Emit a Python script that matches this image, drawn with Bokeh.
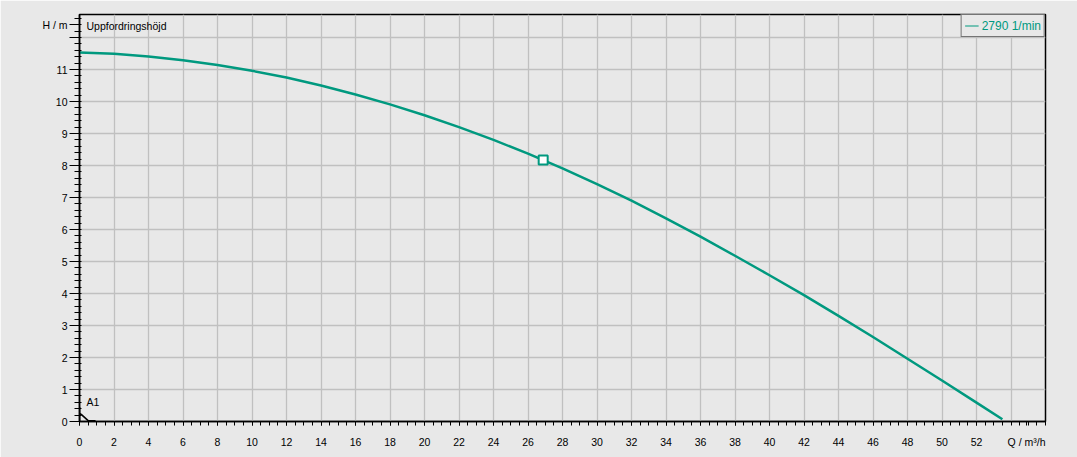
from bokeh.plotting import figure
from bokeh.models import (Range1d, FixedTicker, Label, Legend, LegendItem)
from bokeh.embed import file_html
from bokeh.resources import INLINE

# ---- data ----
Q = [0, 2, 4, 6, 8, 10, 12, 14, 16, 18, 20, 22, 24, 26, 28, 30, 32, 34, 36,
     38, 40, 42, 44, 46, 48, 50, 52, 53.5]
H = [11.53, 11.49, 11.41, 11.29, 11.14, 10.96, 10.75, 10.50, 10.22, 9.91,
     9.57, 9.20, 8.80, 8.37, 7.91, 7.42, 6.90, 6.35, 5.78, 5.18, 4.57, 3.95,
     3.30, 2.64, 1.96, 1.28, 0.59, 0.07]
op_Q = [26.88]
op_H = [8.17]
a1_xs = [[0, 0], [0, 0.1, 0.5, 0.93]]
a1_ys = [[0, 0.45], [0.25, 0.22, 0.03, 0.02]]
x_ticks = list(range(0, 56, 2))
y_ticks = list(range(0, 13))
x_minor = [i * 0.5 for i in range(0, 113)]
y_minor = [round(i * 0.2, 1) for i in range(0, 64)]
legend_label = "2790 1/min"
x_name = "Q / m³/h"
y_name = "H / m"
x_name_pos = 54.9
y_name_pos = 12.4

BG = "#e8e8e8"
TEAL = "#00997f"
FONT = "Liberation Sans"

p = figure(width=1077, height=457, output_backend="svg", toolbar_location=None,
           x_range=Range1d(0, 56), y_range=Range1d(0, 12.72),
           min_border_left=79, min_border_right=32, min_border_top=14,
           min_border_bottom=36)
p.background_fill_color = BG
p.border_fill_color = BG
p.outline_line_color = "black"
p.outline_line_width = 1.5

for ax in (p.xaxis[0], p.yaxis[0]):
    ax.axis_line_color = "black"
    ax.axis_line_width = 1.5
    ax.major_tick_line_color = "black"
    ax.minor_tick_line_color = "black"
    ax.major_label_text_font = FONT
    ax.major_label_text_font_size = "10.5px"
    ax.major_label_text_color = "black"

# axis names sit in the tick-label rows at the axis ends, as in the reference
p.xaxis.ticker = FixedTicker(ticks=x_ticks[:-1] + [x_name_pos],
                             minor_ticks=x_minor)
p.yaxis.ticker = FixedTicker(ticks=y_ticks + [y_name_pos], minor_ticks=y_minor)
p.xaxis.major_label_overrides = {x_name_pos: x_name}
p.yaxis.major_label_overrides = {12: "", y_name_pos: y_name}
p.xaxis.major_tick_out = 4
p.xaxis.major_tick_in = 0
p.xaxis.minor_tick_out = 4
p.xaxis.minor_tick_in = 0
p.xaxis.major_label_standoff = 10
p.yaxis.major_tick_out = 10
p.yaxis.major_tick_in = 0
p.yaxis.minor_tick_out = 5
p.yaxis.minor_tick_in = 2
p.yaxis.major_label_standoff = 2

p.xgrid.ticker = FixedTicker(ticks=x_ticks)
p.ygrid.ticker = FixedTicker(ticks=y_ticks)
for g in (p.xgrid[0], p.ygrid[0]):
    g.grid_line_color = "#c0c0c0"
    g.grid_line_width = 1.3

p.line(Q, H, line_color=TEAL, line_width=2.5)
p.scatter(op_Q, op_H, marker="square", size=9, fill_color="white",
          line_color=TEAL, line_width=2)
p.multi_line(a1_xs, a1_ys, line_color="black", line_width=1.6)

dummy = p.line([-10, -9], [-10, -9], line_color=TEAL, line_width=1.2)
leg = Legend(items=[LegendItem(label=legend_label, renderers=[dummy])],
             location="top_right", margin=0, padding=3, spacing=0,
             glyph_width=14, glyph_height=15, label_standoff=3,
             border_line_color="black", border_line_width=1.5,
             background_fill_color=BG, background_fill_alpha=1,
             label_text_color=TEAL, label_text_font=FONT,
             label_text_font_size="12px")
p.add_layout(leg)


def lab(x, y, text, xo=0, yo=0):
    p.add_layout(Label(x=x, y=y, text=text, x_offset=xo, y_offset=yo,
                       text_align="left", text_baseline="middle",
                       text_font=FONT, text_font_size="10.5px",
                       text_color="black"))


lab(0, 12.35, "Uppfordringshöjd", xo=7)
lab(0, 0, "A1", xo=7, yo=20)

html = file_html(p, INLINE)
open("out.html", "w").write(html)
